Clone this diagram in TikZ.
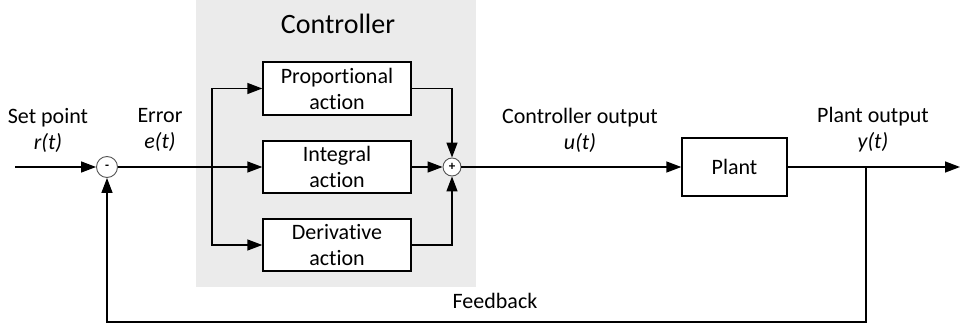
\documentclass[tikz,border=0pt]{standalone}
\usepackage{fontspec}
\setmainfont{Carlito}[Ligatures=NoCommon]
\usetikzlibrary{arrows.meta,positioning}
\definecolor{ctrlgray}{HTML}{EBEBEB}
\definecolor{ringgray}{HTML}{555555}
\tikzset{
  blk/.style={draw, line width=1.4pt, fill=white, minimum width=148pt, minimum height=53pt, align=center, inner sep=0pt, font=\fontsize{22}{26}\selectfont},
  sumc/.style={draw=ringgray, circle, line width=0.9pt, fill=white, minimum size=19pt, inner sep=0pt, font=\bfseries\fontsize{13}{13}\selectfont},
  lbl/.style={align=center, font=\fontsize{22}{26}\selectfont, inner sep=0pt},
  wire/.style={line width=1.4pt},
  arr/.style={wire, -{Triangle[length=15pt,width=11pt]}}
}
\begin{document}
\begin{tikzpicture}[x=1pt,y=-1pt]
\useasboundingbox (0,0) rectangle (960,331);
\fill[ctrlgray] (196,0) rectangle (476,287);
\node[lbl, font=\fontsize{28}{30}\selectfont] (ctl) at (338,24) {Controller};
\node[blk] (P) at (337,88.5) {Proportional\\action};
\node[blk, minimum height=52pt] (I) at (337,167) {Integral\\action};
\node[blk, minimum height=52pt] (D) at (337,245) {Derivative\\action};
\node[sumc, minimum size=21pt] (err) at (107,167) {-};
\node[sumc, minimum size=18pt] (sum) at (452,167) {+};
\node[blk, minimum width=105pt, minimum height=58pt] (plant) at (734.5,167) {Plant};
\coordinate (in) at (15,167);
\coordinate (br) at (212,167);
\coordinate (tap) at (866,167);
\coordinate (out) at (960,167);
\coordinate (fb) at (107,322);
\node[lbl] (sp) at (48,130) {Set point\\\textit{r(t)}};
\node[lbl] (el) at (160,130) {Error\\\textit{e(t)}};
\node[lbl] (co) at (580,130) {Controller output\\\textit{u(t)}};
\node[lbl] (po) at (873,130) {Plant output\\\textit{y(t)}};
\node[lbl] (fbl) at (495,301) {Feedback};
\draw[arr] (in) -- (err.west);
\draw[arr] (err.east) -- (I.west);
\draw[arr] (br) |- (P.west);
\draw[arr] (br) |- (D.west);
\draw[arr] (I.east) -- (sum.west);
\draw[arr] (P.east) -| (sum.north);
\draw[arr] (D.east) -| (sum.south);
\draw[arr] (sum.east) -- (plant.west);
\draw[arr] (plant.east) -- (out);
\draw[arr] (tap) |- (fb) -- (err.south);
\end{tikzpicture}
\end{document}
